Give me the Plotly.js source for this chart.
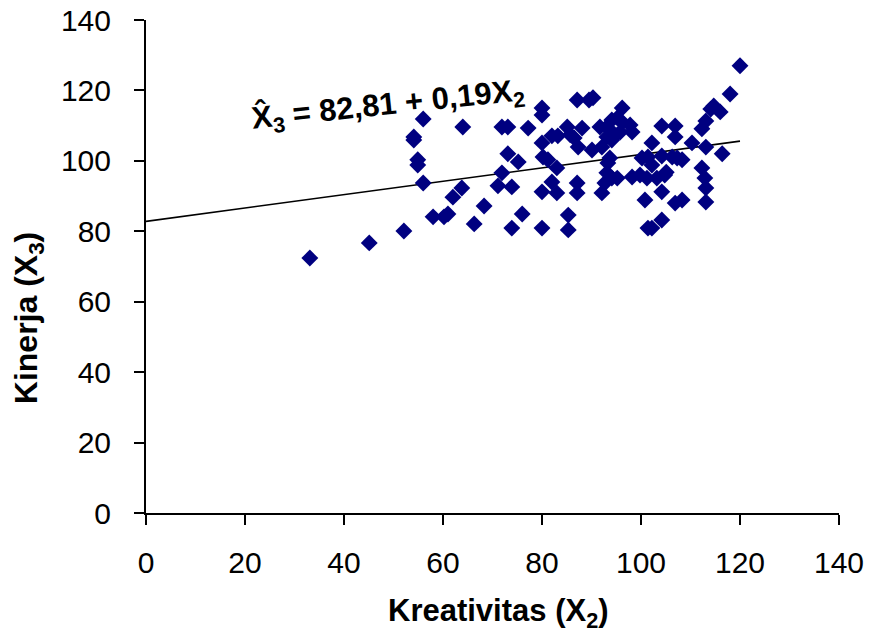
<!DOCTYPE html>
<html>
<head>
<meta charset="utf-8">
<script src="https://cdn.plot.ly/plotly-3.0.1.min.js"></script>
<style>html,body{margin:0;padding:0;background:#fff;}#chart{width:869px;height:635px;}</style>
</head>
<body>
<div id="chart"></div>
<script>
// Kreativitas (X2) values
const kreativitas = [
  33.1, 45.1, 52.1, 58.0, 60.2, 61.0, 62.0, 63.8, 56.0, 54.9, 54.9, 54.1, 54.1, 56.0, 64.0,
  71.9, 73.1, 77.2, 80.0, 80.0, 82.0, 83.2, 80.0, 73.1, 75.2, 80.2, 81.2, 71.9, 71.1, 73.9,
  68.3, 66.3, 76.0, 73.9, 80.0, 80.0, 82.0,
  87.1, 89.5, 90.3, 96.2, 85.1, 88.1, 85.7, 86.5, 91.7, 93.1, 94.1, 95.2, 96.2, 97.8, 98.2,
  93.1, 94.1, 95.8, 94.7, 87.3, 90.1, 92.1, 93.7, 93.3, 100.2, 83.0, 83.0, 87.1, 87.1, 92.1,
  93.1, 94.1, 95.2, 92.7, 98.2, 99.8, 101.2, 100.8, 85.3, 85.3, 101.4,
  120.0, 118.0, 114.7, 116.0, 114.1, 113.1, 112.3, 104.2, 106.9, 106.9, 102.2, 110.3, 113.1,
  116.4, 102.2, 104.2, 106.3, 107.3, 108.3, 112.3, 112.9, 113.1, 113.1, 103.2, 104.8, 104.2,
  106.9, 108.3, 104.2, 102.2, 105.1, 101.4
];
// Kinerja (X3) values
const kinerja = [
  72.4, 76.7, 80.1, 84.1, 84.1, 84.9, 89.7, 92.3, 93.7, 98.8, 100.3, 105.9, 106.8, 111.9, 109.6,
  109.6, 109.6, 109.3, 115.0, 113.0, 107.1, 107.1, 105.1, 102.0, 99.7, 101.1, 100.3, 96.6, 92.9, 92.6,
  87.2, 82.1, 84.9, 80.9, 80.9, 91.2, 94.0,
  117.3, 117.3, 117.9, 115.0, 109.6, 109.3, 107.4, 106.5, 109.6, 109.6, 111.6, 112.2, 111.0, 110.2, 108.2,
  106.8, 105.9, 108.2, 107.4, 103.9, 103.1, 103.9, 100.8, 99.4, 100.8, 98.0, 90.9, 93.7, 90.9, 90.9,
  96.6, 95.1, 95.1, 93.7, 95.4, 96.0, 95.1, 88.9, 84.6, 80.4, 80.9,
  127.0, 119.0, 115.6, 113.9, 114.7, 111.3, 109.1, 109.9, 109.9, 106.8, 105.1, 105.1, 103.9,
  102.0, 98.8, 101.4, 101.1, 100.8, 100.3, 98.0, 95.1, 92.3, 88.3, 95.1, 96.0, 91.2,
  88.0, 88.9, 83.2, 80.9, 96.8, 101.1
];
// Regression line X3 = 82,81 + 0,19 X2 (endpoints)
const lineX = [0, 120];
const lineY = [82.81, 105.61];
const tickVals = [0, 20, 40, 60, 80, 100, 120, 140];
const tickText = ['0', '20', '40', '60', '80', '100', '120', '140'];

const FONT = 'Liberation Sans, Arial, sans-serif';

const traces = [
  {
    x: lineX, y: lineY, type: 'scatter', mode: 'lines',
    line: {color: '#000000', width: 1.6}, hoverinfo: 'skip', showlegend: false
  },
  {
    x: kreativitas, y: kinerja, type: 'scatter', mode: 'markers',
    marker: {symbol: 'diamond', size: 13, color: '#000080', line: {width: 0}},
    showlegend: false
  }
];

const axisCommon = {
  range: [0, 140], tickvals: tickVals, ticktext: tickText,
  showgrid: false, zeroline: false, showline: true, linecolor: '#000', linewidth: 2,
  ticks: 'outside', ticklen: 10, tickwidth: 2, tickcolor: '#000',
  tickfont: {family: FONT, size: 30, color: '#000'}
};

const layout = {
  width: 869, height: 635,
  margin: {l: 146, r: 30, t: 20, b: 122},
  paper_bgcolor: '#fff', plot_bgcolor: '#fff',
  xaxis: Object.assign({}, axisCommon, {ticklabelstandoff: 12}),
  yaxis: Object.assign({}, axisCommon, {ticklabelstandoff: 17}),
  annotations: [
    {
      xref: 'paper', yref: 'paper', x: 0.508, y: -0.203, showarrow: false,
      text: '<b>Kreativitas (X<sub>2</sub>)</b>',
      font: {family: FONT, size: 31, color: '#000'}, xanchor: 'center', yanchor: 'middle'
    },
    {
      xref: 'paper', yref: 'paper', x: -0.17, y: 0.3955, showarrow: false,
      text: '<b>Kinerja (X<sub>3</sub>)</b>', textangle: -90,
      font: {family: FONT, size: 32, color: '#000'}, xanchor: 'center', yanchor: 'middle'
    },
    {
      xref: 'x', yref: 'y', x: 48.9, y: 115.6, showarrow: false,
      text: '<b>X\u0302<sub>3</sub> = 82,81 + 0,19X<sub>2</sub></b>', textangle: -6,
      font: {family: FONT, size: 31, color: '#000'}, xanchor: 'center', yanchor: 'middle'
    }
  ]
};

Plotly.newPlot('chart', traces, layout, {displayModeBar: false, staticPlot: true});
</script>
</body>
</html>
